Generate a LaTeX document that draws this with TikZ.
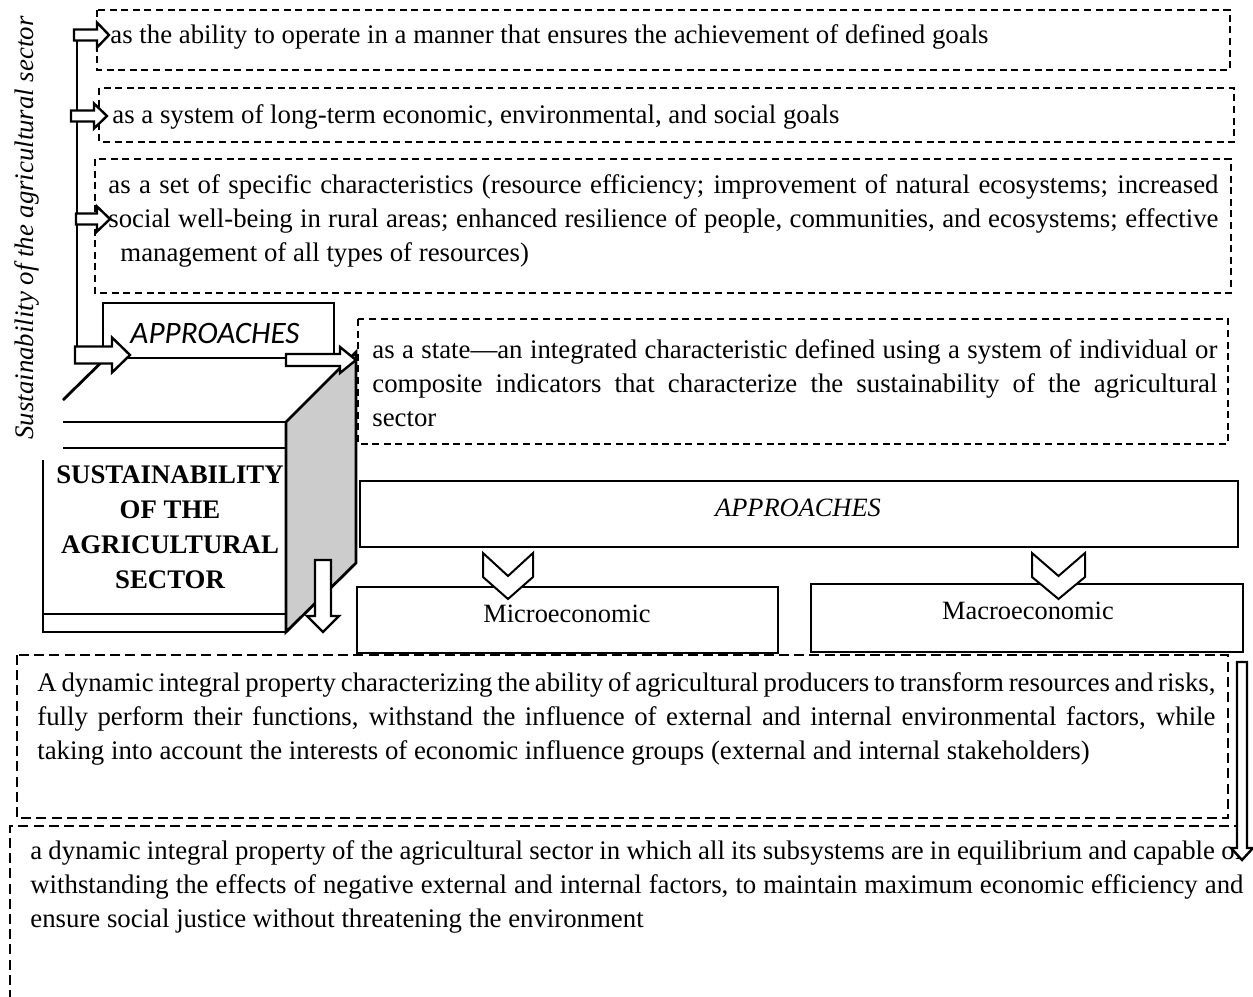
\documentclass[tikz,border=0pt]{standalone}
\usepackage{fontspec}
\setmainfont{Liberation Serif}
\newfontfamily\carl{Carlito}
\newcommand\rblk[6]{% x0, xhead, xtip, y, shaft half, head half
  \draw[blk] (#1,#4-#5)--(#2,#4-#5)--(#2,#4-#6)--(#3,#4)--(#2,#4+#6)--(#2,#4+#5)--(#1,#4+#5)--cycle;}
\newcommand\dblk[6]{% y0, yhead, ytip, x, shaft half, head half
  \draw[blk] (#4-#5,#1)--(#4-#5,#2)--(#4-#6,#2)--(#4,#3)--(#4+#6,#2)--(#4+#5,#2)--(#4+#5,#1)--cycle;}
\newcommand\chev[3]{% x left, x right, y top
  \draw[blk,line width=1pt] (#1,#3)--({(#1+#2)/2},#3+23)--(#2,#3)--(#2,#3+24)--({(#1+#2)/2},#3+46)--(#1,#3+24)--cycle;}
\tikzset{
  dbox/.style={draw, line width=0.9pt, dash pattern=on 3.5pt off 2.3pt},
  dboxL/.style={draw, line width=1pt, dash pattern=on 5pt off 2.6pt},
  blk/.style={draw, fill=white, line width=1.2pt, line join=miter},
  cub/.style={line width=1.4pt},
  txt/.style={inner sep=0pt, font=\fontsize{13.4}{17}\selectfont, align=left},
}
\begin{document}
\begin{tikzpicture}[x=0.5pt,y=-0.5pt]
\useasboundingbox (0,0) rectangle (1253,996);

% vertical title
\node[rotate=90, inner sep=0pt, font=\fontsize{13.4}{15}\selectfont\itshape] (vtitle) at (27,228) {Sustainability of the agricultural sector};

% dashed boxes top
\draw[dbox] (97,10) rectangle (1230,70);
\draw[dbox] (99,88) rectangle (1234,142);
\draw[dbox] (95,159) rectangle (1231,293);
\draw[dbox] (358,319) rectangle (1228,444);

\node[txt, anchor=west] (t1) at (110,37) {as the ability to operate in a manner that ensures the achievement of defined goals};
\node[txt, anchor=west] (t2) at (112,117) {as a system of long-term economic, environmental, and social goals};
\node[txt, anchor=north west] (t3) at (108,174) {%
\makebox[555pt][s]{as a set of specific characteristics (resource efficiency; improvement of natural ecosystems; increased}\\
\makebox[555pt][s]{social well-being in rural areas; enhanced resilience of people, communities, and ecosystems; effective}\\
\hspace*{6pt}management of all types of resources)};
\node[txt, anchor=north west] (t4) at (372,339) {%
\makebox[422.5pt][s]{as a state\textemdash an integrated characteristic defined using a system of individual or}\\
\makebox[422.5pt][s]{composite indicators that characterize the sustainability of the agricultural}\\
sector};

% vertical connector line
\draw[line width=0.6pt] (77,35) -- (77,356);

% upper APPROACHES box
\draw[line width=0.7pt] (103,303) rectangle (334,358);
\node[inner sep=0pt, font=\carl\itshape\fontsize{15.6}{17}\selectfont] (app1) at (215,333) {APPROACHES};

% cube
\draw[cub] (63,422) -- (286,422);
\draw[line width=1pt] (63,448) -- (286,448);
\draw[cub] (63,400) -- (118,346);
\draw[cub, fill=gray!40, line join=miter] (286,422) -- (356,352) -- (356,563) -- (286,632) -- cycle;
\draw[cub] (43,460) -- (43,632) -- (286,632);
\draw[line width=1pt] (43,614) -- (286,614);
\node[inner sep=0pt, align=center, font=\fontsize{13.4}{17.5}\selectfont\bfseries] (title) at (170,527) {SUSTAINABILITY\\OF THE\\AGRICULTURAL\\SECTOR};

% right block arrows
\rblk{74}{97}{109}{35}{5.5}{12.5}
\rblk{71}{94}{107}{116}{5.5}{12.5}
\rblk{76}{97}{110}{219}{5.5}{12.5}
\rblk{75}{112}{130}{355}{8.5}{17.5}
\rblk{286}{340}{356}{360}{6}{13}

% down arrow in cube face
\dblk{560}{616}{632}{323}{8}{16}

% lower APPROACHES
\draw[line width=0.8pt] (360,481) rectangle (1238,547);
\node[inner sep=0pt, font=\fontsize{13.2}{15}\selectfont\itshape] (app2) at (798,508) {APPROACHES};

\draw[line width=1pt] (357,587) rectangle (778,653);
\node[inner sep=0pt, font=\fontsize{13.2}{15}\selectfont] (micro) at (567,614) {Microeconomic};
\draw[line width=1pt] (811,584) rectangle (1243,652);
\node[inner sep=0pt, font=\fontsize{13.2}{15}\selectfont] (macro) at (1028,611) {Macroeconomic};

\chev{483}{533}{553}
\chev{1032}{1085}{553}

% lower dashed boxes
\draw[dboxL] (17,655) rectangle (1228,818);
\draw[dboxL] (10,1000) -- (10,826) -- (1238,826);
\node[txt, anchor=north west] (t5) at (37,672) {%
\makebox[589pt][s]{A dynamic integral property characterizing the ability of agricultural producers to transform resources and risks,}\\
\makebox[589pt][s]{fully perform their functions, withstand the influence of external and internal environmental factors, while}\\
taking into account the interests of economic influence groups (external and internal stakeholders)};
\node[txt, anchor=north west] (t6) at (30,840) {%
\makebox[606.5pt][s]{a dynamic integral property of the agricultural sector in which all its subsystems are in equilibrium and capable of}\\
\makebox[606.5pt][s]{withstanding the effects of negative external and internal factors, to maintain maximum economic efficiency and}\\
ensure social justice without threatening the environment};

% right down arrow
\dblk{662}{848}{860}{1242}{5}{11}
\end{tikzpicture}
\end{document}
